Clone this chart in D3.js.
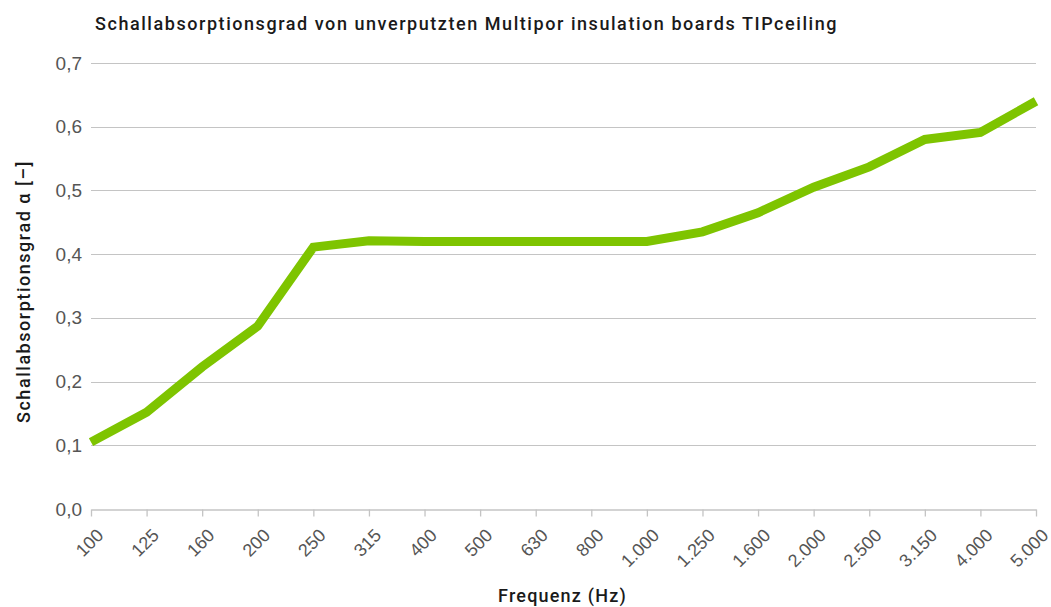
<!DOCTYPE html>
<html>
<head>
<meta charset="utf-8">
<title>Schallabsorptionsgrad</title>
<script src="https://d3js.org/d3.v7.min.js"></script>
<style>
  body { margin: 0; background: #fff; font-family: "Roboto", sans-serif; }
  .grid line { stroke: #c4c4c4; stroke-width: 1.3; shape-rendering: crispEdges; }
  .axis text { fill: #555; font-weight: 300; }
  .axis.y text { font-size: 19px; }
  .axis.x text { font-size: 18px; }
  .axis path, .axis line { stroke: #c4c4c4; stroke-width: 1.3; }
  .title { font-size: 18px; font-weight: 500; fill: #1a1a1a; }
  .label { font-size: 18px; font-weight: 500; fill: #1a1a1a; }
</style>
</head>
<body>
<script>
var frequencies = ["100", "125", "160", "200", "250", "315", "400", "500", "630", "800",
                   "1.000", "1.250", "1.600", "2.000", "2.500", "3.150", "4.000", "5.000"];
var alpha = [0.105, 0.152, 0.223, 0.287, 0.411, 0.421, 0.42, 0.42, 0.42, 0.42,
             0.42, 0.435, 0.465, 0.505, 0.537, 0.58, 0.591, 0.64];
var yTicks = [0, 0.1, 0.2, 0.3, 0.4, 0.5, 0.6, 0.7];

var W = 1051, H = 607;
var margin = {top: 63, right: 15, bottom: 98, left: 91};
var width = W - margin.left - margin.right,
    height = H - margin.top - margin.bottom;

var svg = d3.select("body").append("svg")
    .attr("width", W)
    .attr("height", H);

var g = svg.append("g")
    .attr("transform", "translate(" + margin.left + "," + margin.top + ")");

var x = d3.scalePoint()
    .domain(frequencies)
    .range([0, width]);

var y = d3.scaleLinear()
    .domain([0, 0.7])
    .range([height, 0]);

// stretch text a little so it takes the width of the original (DIN-like) font
function fitWidth(sel, target) {
    var node = sel.node();
    var n = sel.text().length;
    var len = node.getComputedTextLength();
    sel.style("letter-spacing", ((target - len) / n) + "px");
}

// gridlines
g.append("g")
    .attr("class", "grid")
    .selectAll("line")
    .data(yTicks.slice(1))
    .enter().append("line")
    .attr("x1", 0)
    .attr("x2", width)
    .attr("y1", function(d) { return Math.round(y(d)) + 0.5; })
    .attr("y2", function(d) { return Math.round(y(d)) + 0.5; });

// y axis labels
var yAxis = d3.axisLeft(y)
    .tickValues(yTicks)
    .tickSize(0)
    .tickPadding(9)
    .tickFormat(function(d) { return d3.format(".1f")(d).replace(".", ","); });

g.append("g")
    .attr("class", "axis y")
    .call(yAxis)
    .call(function(s) { s.select(".domain").remove(); });

// x axis
var xAxis = d3.axisBottom(x).tickSize(7).tickSizeOuter(0);

var gx = g.append("g")
    .attr("class", "axis x")
    .attr("transform", "translate(0," + (Math.round(height) + 0.5) + ")")
    .call(xAxis);

gx.selectAll("text")
    .attr("text-anchor", "end")
    .attr("dy", 0)
    .attr("y", 0)
    .attr("transform", "translate(13,27) rotate(-45)");

// line
var line = d3.line()
    .x(function(d, i) { return x(frequencies[i]); })
    .y(function(d) { return y(d); });

g.append("path")
    .datum(alpha)
    .attr("fill", "none")
    .attr("stroke", "#7ec400")
    .attr("stroke-width", 9)
    .attr("stroke-linejoin", "miter")
    .attr("d", line);

// titles
svg.append("text")
    .attr("class", "title")
    .attr("x", 95)
    .attr("y", 30)
    .text("Schallabsorptionsgrad von unverputzten Multipor insulation boards TIPceiling")
    .call(fitWidth, 743);

svg.append("text")
    .attr("class", "label")
    .attr("x", 498)
    .attr("y", 602)
    .text("Frequenz (Hz)")
    .call(fitWidth, 129);

svg.append("text")
    .attr("class", "label")
    .attr("transform", "translate(30,423) rotate(-90)")
    .text("Schallabsorptionsgrad α [–]")
    .call(fitWidth, 263);
</script>
</body>
</html>
